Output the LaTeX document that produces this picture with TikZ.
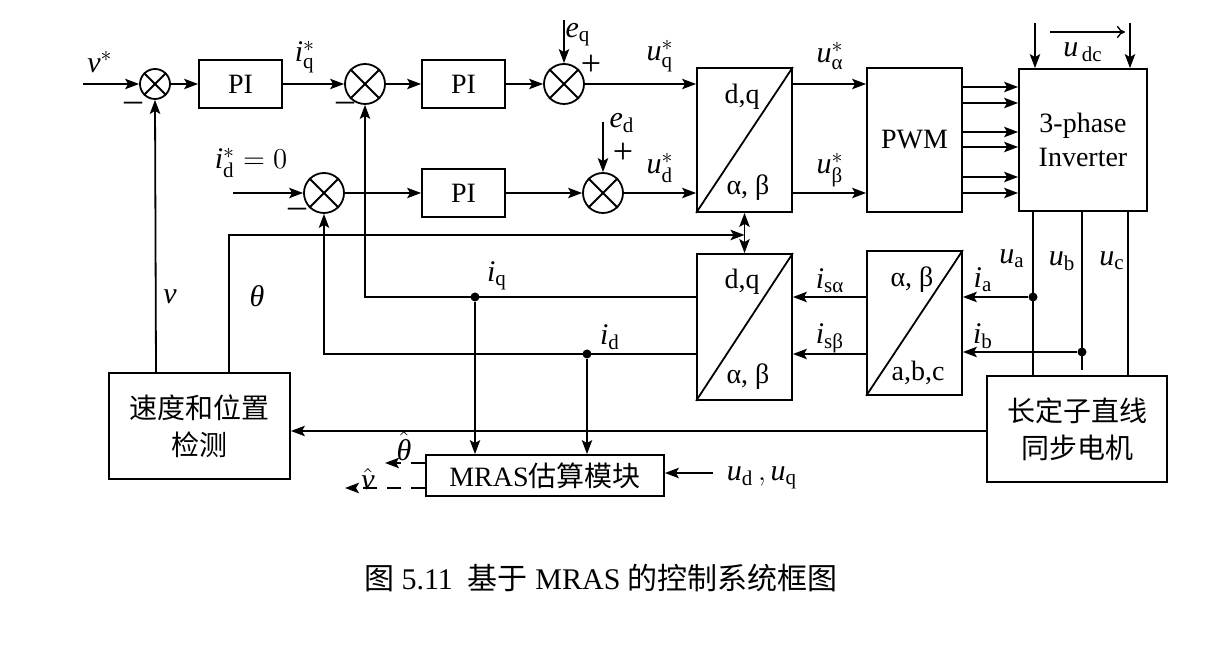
\documentclass[tikz,border=0pt]{standalone}
\usepackage{amsmath}
\usepackage{fontspec}
\setmainfont{Liberation Serif}
\newfontfamily\cjk{Noto Sans CJK SC}
\usetikzlibrary{arrows.meta,calc}
\begin{document}
\begin{tikzpicture}[x=0.5pt,y=-0.5pt, line width=0.9pt,
  font=\fontsize{14}{17}\selectfont,
  arr/.style={-{Stealth[length=7pt,width=5.2pt,inset=1.5pt]}},
  darr/.style={{Stealth[length=7pt,width=5.2pt,inset=1.5pt]}-{Stealth[length=7pt,width=5.2pt,inset=1.5pt]}},
  pibox/.style={draw, inner sep=0pt, minimum width=41.5pt, minimum height=24pt},
  trbox/.style={draw, inner sep=0pt, minimum width=47.5pt, minimum height=72pt},
  sumnode/.style={draw, circle, inner sep=0pt, minimum size=20pt},
  lab/.style={inner sep=0pt},
  mlab/.style={inner sep=0pt, font=\fontsize{15}{18}\selectfont},
  sign/.style={inner sep=0pt, font=\fontsize{18}{20}\selectfont},
  cjkbox/.style={draw, inner sep=0pt, align=center, font=\fontsize{14}{18.5}\selectfont\cjk},
  jdot/.style={circle, fill, inner sep=0pt, minimum size=4.5pt}]
\useasboundingbox (0,0) rectangle (1212,646);

% ---------- top row ----------
\node[sumnode, minimum size=15pt] (s1) at (155,84) {};
\node[pibox] (pi1) at (240.5,84) {PI};
\node[sumnode] (s2) at (365,84) {};
\node[pibox] (pi2) at (463.5,84) {PI};
\node[sumnode] (s3) at (564,84) {};
\node[trbox] (t1) at (744.5,140) {};
\node[trbox] (pwm) at (914.5,140) {PWM};
\node[draw, inner sep=0pt, minimum width=64pt, minimum height=71pt, align=center] (inv) at (1083,140) {3-phase\\Inverter};

% ---------- second row ----------
\node[sumnode] (sd) at (324,193) {};
\node[pibox] (pi3) at (463.5,193) {PI};
\node[sumnode] (s4) at (603,193) {};

% ---------- lower blocks ----------
\node[draw, inner sep=0pt, minimum width=47.5pt, minimum height=73pt] (t2) at (744.5,327) {};
\node[trbox] (t3) at (914.5,323) {};
\node[cjkbox, minimum width=90pt, minimum height=53pt] (mot) at (1077,429) {长定子直线\\同步电机};
\node[cjkbox, minimum width=90.5pt, minimum height=53pt] (det) at (199.5,426) {速度和位置\\检测};
\node[draw, inner sep=0pt, minimum width=119pt, minimum height=20.5pt] (mras) at (545,475.5) {MRAS{\cjk 估算模块}};

% crosses in summing junctions
\foreach \s in {s1,s2,s3,sd,s4}
  \draw (\s.north east) -- (\s.south west) (\s.north west) -- (\s.south east);
% diagonals in transforms
\foreach \t in {t1,t2,t3}
  \draw (\t.south west) -- (\t.north east);

% transform texts
\node[lab] (t1a) at (742,97) {d,q};
\node[lab] (t1b) at (748,188) {α, β};
\node[lab] (t2a) at (742,282) {d,q};
\node[lab] (t2b) at (748,377) {α, β};
\node[lab] (t3a) at (912,280) {α, β};
\node[lab] (t3b) at (918,373) {a,b,c};

% ---------- coordinates ----------
\coordinate (vin) at (83,84);
\coordinate (idin) at (233,193);
\coordinate (eqin) at (564,20);
\coordinate (edin) at (603,122);
\coordinate (dc1) at (1035,23);
\coordinate (dc2) at (1130,23);
\coordinate (dcA) at (1050,32);
\coordinate (dcB) at (1125,32);
\coordinate (yq) at (0,297);
\coordinate (yd) at (0,354);
\coordinate (yth) at (0,235);
\coordinate (ymd) at (0,431);
\coordinate (xv) at (156,0);
\coordinate (xth) at (229,0);
\coordinate (xa) at (1033,0);
\coordinate (xb) at (1082,0);
\coordinate (xc) at (1128,0);
\coordinate (ubend) at (1082,370);
\coordinate (udq) at (713,473);
\coordinate (thout) at (385,463);
\coordinate (vout) at (345,488);

% ---------- top row connectors ----------
\draw[arr] (vin) -- (s1.west);
\draw[arr] (s1.east) -- (pi1.west);
\draw[arr] (pi1.east) -- (s2.west);
\draw[arr] (s2.east) -- (pi2.west);
\draw[arr] (pi2.east) -- (s3.west);
\draw[arr] (s3.east) -- (t1.west |- s3.east);
\draw[arr] (eqin) -- (s3.north);
\draw[arr] (t1.east |- s3.east) -- (pwm.west |- s3.east);
\draw[arr] (t1.east |- s4.east) -- (pwm.west |- s4.east);
\foreach \y in {87,103,132,147,177,193}{
  \coordinate (g\y) at (0,\y);
  \draw[arr] (pwm.east |- g\y) -- (inv.west |- g\y);
}
\draw[arr] (dc1) -- (inv.north -| dc1);
\draw[arr] (dc2) -- (inv.north -| dc2);
\draw[-{To[length=4pt,width=6pt]}, line width=0.7pt] (dcA) -- (dcB);

% ---------- second row connectors ----------
\draw[arr] (idin) -- (sd.west);
\draw[arr] (sd.east) -- (pi3.west);
\draw[arr] (pi3.east) -- (s4.west);
\draw[arr] (s4.east) -- (t1.west |- s4.east);
\draw[arr] (edin) -- (s4.north);

% ---------- feedback ----------
\draw[darr] (t1.south) -- (t2.north);
\draw[arr] (det.north -| xv) -- (s1.south);
\draw[arr] (det.north -| xth) |- (t1.south |- yth);
\draw[arr] (t2.west |- yq) -| (s2.south);
\draw[arr] (t2.west |- yd) -| (sd.south);
\node[jdot] (dq) at (475,297) {};
\node[jdot] (dd) at (587,354) {};
\draw[arr] (dq) -- (mras.north -| dq);
\draw[arr] (dd) -- (mras.north -| dd);

% ---------- right side ----------
\draw (inv.south -| xa) -- (mot.north -| xa);
\draw (inv.south -| xb) -- (ubend);
\draw (inv.south -| xc) -- (mot.north -| xc);
\node[jdot] (da) at (1033,297) {};
\node[jdot] (db) at (1082,352) {};
\draw[arr] (da) -- (t3.east |- da);
\draw[arr] (db) -- (t3.east |- db);
\draw[arr] (t3.west |- yq) -- (t2.east |- yq);
\draw[arr] (t3.west |- yd) -- (t2.east |- yd);
\draw[arr] (mot.west |- ymd) -- (det.east |- ymd);

% ---------- MRAS ----------
\draw[arr] (udq) -- (mras.east |- udq);
\draw[arr, dash pattern=on 7pt off 5pt] (mras.west |- thout) -- (thout);
\draw[arr, dash pattern=on 7pt off 5pt] (mras.west |- vout) -- (vout);

% ---------- labels ----------
\node[mlab] (Lv) at (100,62) {$\mathit{v}^{*}$};
\node[sign] (Lm1) at (133,107) {–};
\node[mlab] (Liq) at (305,57) {$\mathit{i}^{*}_{\mathrm{q}}$};
\node[sign] (Lm2) at (345,107) {–};
\node[mlab] (Leq) at (578,35) {$\mathit{e}_{\mathrm{q}}$};
\node[sign] (Lp1) at (591,65) {+};
\node[mlab] (Luq) at (660,56) {$\mathit{u}^{*}_{\mathrm{q}}$};
\node[mlab] (Lua) at (830,56) {$\mathit{u}^{*}_{\text{α}}$};
\node[mlab] (Lid0) at (251,163) {$\mathit{i}^{*}_{\mathrm{d}} = 0$};
\node[sign] (Lm3) at (297,213) {–};
\node[mlab] (Led) at (622,123) {$\mathit{e}_{\mathrm{d}}$};
\node[sign] (Lp2) at (623,153) {+};
\node[mlab] (Lud) at (660,168) {$\mathit{u}^{*}_{\mathrm{d}}$};
\node[mlab] (Lub) at (830,170) {$\mathit{u}^{*}_{\text{β}}$};
\node[mlab] (Ludc) at (1083,52) {$\mathit{u}_{\,\mathrm{dc}}$};
\node[mlab] (Lu1) at (1012,259) {$\mathit{u}_{\mathrm{a}}$};
\node[mlab] (Lu2) at (1062,261) {$\mathit{u}_{\mathrm{b}}$};
\node[mlab] (Lu3) at (1112,261) {$\mathit{u}_{\mathrm{c}}$};
\node[mlab] (Lia) at (983,280) {$\mathit{i}_{\mathrm{a}}$};
\node[mlab] (Lib) at (983,336) {$\mathit{i}_{\mathrm{b}}$};
\node[mlab] (Lisa) at (830,281) {$\mathit{i}_{\text{sα}}$};
\node[mlab] (Lisb) at (830,338) {$\mathit{i}_{\text{sβ}}$};
\node[mlab] (Liqq) at (497,276) {$\mathit{i}_{\mathrm{q}}$};
\node[mlab] (Lidd) at (610,337) {$\mathit{i}_{\mathrm{d}}$};
\node[mlab] (Lvv) at (170,297) {$\mathit{v}$};
\node[mlab] (Lth) at (257,296) {\textit{θ}};
\node[mlab] (Lthh) at (404,446) {$\hat{\text{\textit{θ}}}$};
\node[mlab] (Lvh) at (368,479) {$\hat{\mathit{v}}$};
\node[mlab] (Ludq) at (762,478) {$\mathit{u}_{\mathrm{d}}\,,\mathit{u}_{\mathrm{q}}$};

% ---------- caption ----------
\node[lab, font=\fontsize{15}{18}\selectfont] (cap) at (601,578) {{\cjk 图} 5.11\ \ {\cjk 基于} MRAS {\cjk 的控制系统框图}};
\end{tikzpicture}
\end{document}
